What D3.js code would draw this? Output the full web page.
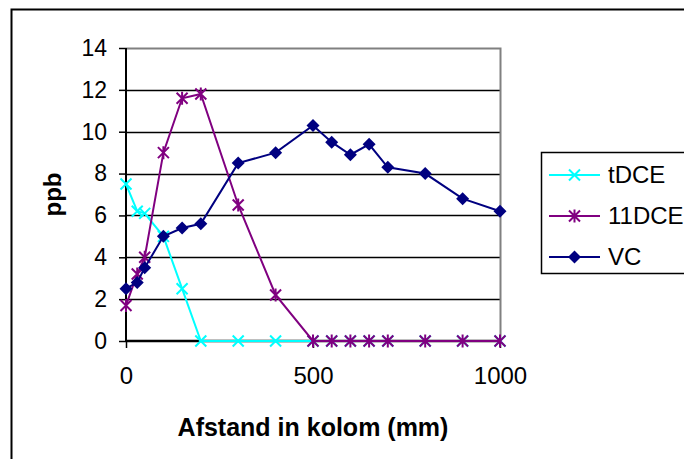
<!DOCTYPE html>
<html>
<head>
<meta charset="utf-8">
<script src="https://cdn.jsdelivr.net/npm/d3@7"></script>
<style>
  body { margin: 0; background: #fff; }
  text { font-family: "Liberation Sans", Arial, sans-serif; }
</style>
</head>
<body>
<div id="chart"></div>
<script>
// chart data
const afstand = [0, 30, 50, 100, 150, 200, 300, 400, 500, 550, 600, 650, 700, 800, 900, 1000];
const tDCE  = [7.5, 6.2, 6.1, 5.0, 2.5, 0, 0, 0, 0, 0, 0, 0, 0, 0, 0, 0];
const dce11 = [1.7, 3.2, 4.0, 9.0, 11.6, 11.8, 6.5, 2.2, 0, 0, 0, 0, 0, 0, 0, 0];
const vc    = [2.5, 2.8, 3.5, 5.0, 5.4, 5.6, 8.5, 9.0, 10.3, 9.5, 8.9, 9.4, 8.3, 8.0, 6.8, 6.2];
const seriesNames = ["tDCE", "11DCE", "VC"];
const yTicks = [0, 2, 4, 6, 8, 10, 12, 14];
const xTicks = [0, 500, 1000];

const svgWidth = 684;
const svgHeight = 459;

const margin = { top: 48, right: 184, bottom: 118, left: 126 };
const width = svgWidth - margin.left - margin.right;
const height = svgHeight - margin.top - margin.bottom;

const svg = d3.select("#chart")
  .append("svg")
  .attr("width", svgWidth)
  .attr("height", svgHeight);

// outer chart border (runs off the right and bottom edges)
svg.append("rect")
  .attr("x", 11.5).attr("y", 9.5)
  .attr("width", 700).attr("height", 470)
  .attr("fill", "none").attr("stroke", "#000").attr("stroke-width", 2);

const chartGroup = svg.append("g")
  .attr("transform", `translate(${margin.left}, ${margin.top})`);

const x = d3.scaleLinear().domain([0, 1000]).range([0, width]);
const y = d3.scaleLinear().domain([0, 14]).range([height, 0]);

// gridlines
chartGroup.selectAll("line.grid")
  .data(yTicks.filter(d => d > 0 && d < 14))
  .enter().append("line")
  .attr("class", "grid")
  .attr("x1", 0).attr("x2", width)
  .attr("y1", d => Math.round(y(d)) + 0.5).attr("y2", d => Math.round(y(d)) + 0.5)
  .attr("stroke", "#000").attr("stroke-width", 1.3);

// plot area border top / right (grey)
chartGroup.append("path")
  .attr("d", `M0,0.5H${width + 0.5}V${height}`)
  .attr("fill", "none").attr("stroke", "#808080").attr("stroke-width", 2);

// y axis
const leftAxis = d3.axisLeft(y).tickValues(yTicks).tickSize(7).tickPadding(12);
const yAxis = chartGroup.append("g").call(leftAxis);
yAxis.attr("font-family", null).attr("font-size", null);
yAxis.select(".domain").attr("stroke-width", 2).attr("d", `M0,0V${height}`);
yAxis.selectAll(".tick line").attr("stroke-width", 1.5);
yAxis.selectAll("text").style("font-size", "23px").attr("fill", "#000");

// x axis
const bottomAxis = d3.axisBottom(x).tickValues(xTicks).tickFormat(d3.format("d"))
  .tickSize(7).tickPadding(19);
const xAxis = chartGroup.append("g")
  .attr("transform", `translate(0, ${height})`)
  .call(bottomAxis);
xAxis.attr("font-family", null).attr("font-size", null);
xAxis.select(".domain").attr("stroke-width", 2.5).attr("d", `M0,0H${width}`);
xAxis.selectAll(".tick line").attr("stroke-width", 1.5);
xAxis.selectAll("text").style("font-size", "24px").attr("fill", "#000");

// axis titles
svg.append("text")
  .attr("x", margin.left + x(500))
  .attr("y", 436)
  .attr("text-anchor", "middle")
  .style("font-size", "25px").attr("font-weight", "bold")
  .text("Afstand in kolom (mm)");

svg.append("text")
  .attr("transform", `translate(61, ${margin.top + y(7)}) rotate(-90)`)
  .attr("text-anchor", "middle")
  .style("font-size", "24px").attr("font-weight", "bold")
  .text("ppb");

// markers
function drawMarker(g, type, color) {
  if (type === "x") {
    g.append("path").attr("d", "M-5.5,-5.5L5.5,5.5M-5.5,5.5L5.5,-5.5")
      .attr("stroke", color).attr("stroke-width", 2).attr("fill", "none");
  } else if (type === "star") {
    g.append("path").attr("d", "M-5.5,-5.5L5.5,5.5M-5.5,5.5L5.5,-5.5M0,-6.5V6.5")
      .attr("stroke", color).attr("stroke-width", 2).attr("fill", "none");
  } else {
    g.append("path").attr("d", "M0,-6.5L6.5,0L0,6.5L-6.5,0Z").attr("fill", color);
  }
}

const series = [
  { name: seriesNames[0], values: tDCE, color: "#00ffff", marker: "x" },
  { name: seriesNames[1], values: dce11, color: "#800080", marker: "star" },
  { name: seriesNames[2], values: vc, color: "#000080", marker: "diamond" }
];

const line = d3.line()
  .x((d, i) => x(afstand[i]))
  .y(d => y(d));

series.forEach(s => {
  chartGroup.append("path")
    .datum(s.values)
    .attr("d", line)
    .attr("fill", "none")
    .attr("stroke", s.color)
    .attr("stroke-width", 2);

  chartGroup.selectAll(null)
    .data(s.values)
    .enter().append("g")
    .attr("transform", (d, i) => `translate(${x(afstand[i])}, ${y(d)})`)
    .each(function() { drawMarker(d3.select(this), s.marker, s.color); });
});

// legend
const legend = svg.append("g");
legend.append("rect")
  .attr("x", 541.5).attr("y", 152.5)
  .attr("width", 160).attr("height", 121)
  .attr("fill", "#fff").attr("stroke", "#000").attr("stroke-width", 1.5);

series.forEach((s, i) => {
  const ly = 175 + i * 41;
  legend.append("line")
    .attr("x1", 549).attr("x2", 600)
    .attr("y1", ly).attr("y2", ly)
    .attr("stroke", s.color).attr("stroke-width", 2);
  const m = legend.append("g").attr("transform", `translate(574.5, ${ly})`);
  drawMarker(m, s.marker, s.color);
  legend.append("text")
    .attr("x", 608).attr("y", ly + 8)
    .style("font-size", "24px")
    .text(s.name);
});
</script>
</body>
</html>
